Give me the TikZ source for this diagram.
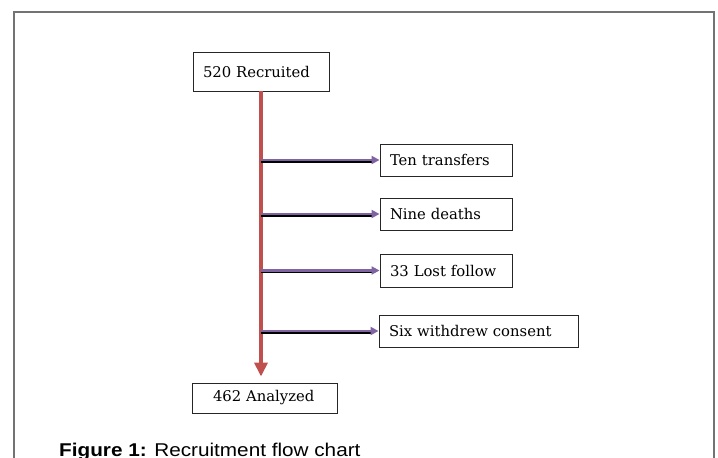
\documentclass[tikz,border=0pt]{standalone}
\usepackage{fontspec}
\setmainfont{DejaVu Serif}
\newfontfamily\capfont[FakeStretch=1.12]{Liberation Sans}
\usetikzlibrary{arrows.meta}
\definecolor{flowred}{HTML}{C0504D}
\definecolor{flowpurple}{HTML}{8064A2}
\tikzset{
  flowbox/.style={draw=black!85,line width=0.9pt,inner xsep=10pt,inner ysep=0pt,align=left,font=\fontsize{14.8}{16}\selectfont},
  mainflow/.style={flowred,line width=4pt,-{Triangle[width=13pt,length=14pt]}},
  sideflow/.style={flowpurple,line width=2.6pt,-{Triangle[width=8pt,length=8pt]}},
  sideshadow/.style={black,line width=2pt}
}
\begin{document}
\begin{tikzpicture}[x=1pt,y=-1pt]
    \useasboundingbox(0,0)rectangle(718,458);
    \draw[black!55,line width=1.5pt](14,458)--(14,12)--(714,12)--(714,458);
    \node[flowbox,text width=116pt,minimum height=39pt](recr)at(261,71.5){520 Recruited};
    \node[flowbox,text width=125pt,minimum height=30pt](anal)at(264.5,398){\hspace{11pt}462 Analyzed};
    \node[flowbox,text width=112pt,minimum height=32pt](ten)at(446,160){Ten transfers};
    \node[flowbox,text width=112pt,minimum height=32pt](nine)at(446,214){Nine deaths};
    \node[flowbox,text width=112pt,minimum height=33pt](lost)at(446,270.5){33 Lost follow};
    \node[flowbox,text width=179pt,minimum height=32pt](six)at(478.5,331){Six withdrew consent};
    \draw[mainflow,shorten >=6pt](recr.south)--(recr.south|-anal.north);
    \foreach \b in {ten,nine,lost,six}{
        \coordinate(\b-from)at(recr.south|-\b.west);
        \draw[sideshadow]([yshift=-1.8pt]\b-from)--([xshift=-7pt,yshift=-1.8pt]\b.west);
        \draw[sideflow](\b-from)--(\b.west);
    }
    \node[anchor=base west,inner sep=0pt,font=\capfont\fontsize{18.5}{20}\selectfont](cap)at(59,456){\textbf{Figure 1:} Recruitment flow chart};
\end{tikzpicture}
\end{document}
